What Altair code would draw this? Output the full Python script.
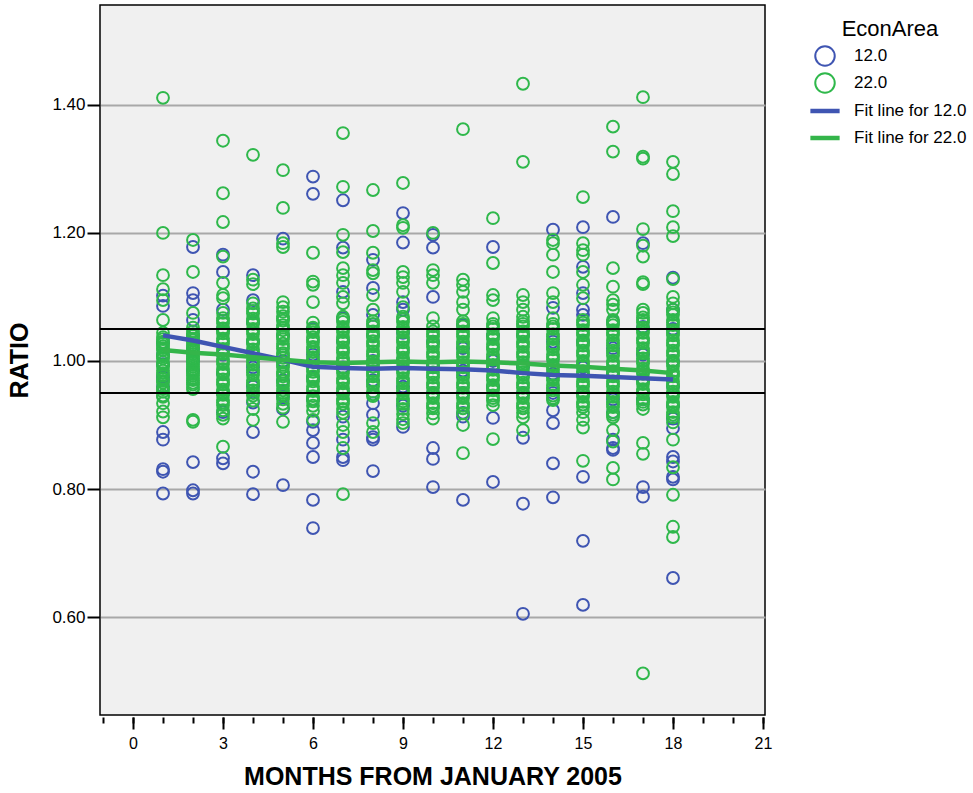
import altair as alt
import pandas as pd

FONT = "Liberation Sans"

months = list(range(1, 19))
series_names = ["12.0", "22.0", "Fit line for 12.0", "Fit line for 22.0"]
series_colors = ["#3f55b2", "#2fb84b", "#3f55b2", "#34b54a"]
series_widths = [2, 2, 4.5, 4.5]

# RATIO observations per month, EconArea 12.0
ratio_12 = [
    [1.102, 1.086, 1.028, 1.010, 0.995, 0.975, 0.960, 0.889, 0.877, 0.831, 0.827, 0.793],
    [1.178, 1.106, 1.095, 1.064, 1.040, 1.020, 1.000, 0.985, 0.842, 0.798, 0.793],
    [1.166, 1.139, 1.080, 1.050, 1.010, 0.980, 0.950, 0.920, 0.848, 0.840],
    [1.134, 1.095, 1.060, 1.030, 0.990, 0.960, 0.935, 0.889, 0.827, 0.792],
    [1.191, 1.040, 1.000, 0.970, 0.945, 0.925, 0.806],
    [1.288, 1.261, 1.050, 1.010, 0.975, 0.940, 0.905, 0.892, 0.872, 0.850, 0.783, 0.739],
    [1.251, 1.177, 1.108, 1.067, 1.030, 0.990, 0.950, 0.913, 0.877, 0.850, 0.845],
    [1.158, 1.114, 1.072, 1.040, 1.000, 0.970, 0.934, 0.916, 0.881, 0.877, 0.828],
    [1.231, 1.185, 1.092, 1.080, 1.044, 1.000, 0.960, 0.930, 0.897],
    [1.197, 1.177, 1.100, 1.030, 0.990, 0.950, 0.864, 0.847, 0.803],
    [1.056, 1.020, 0.985, 0.950, 0.919, 0.913, 0.783],
    [1.178, 1.040, 1.000, 0.960, 0.911, 0.811],
    [1.040, 0.990, 0.950, 0.880, 0.777, 0.605],
    [1.205, 1.083, 1.030, 0.980, 0.950, 0.923, 0.903, 0.840, 0.787],
    [1.209, 1.147, 1.106, 1.080, 1.072, 1.030, 0.990, 0.950, 0.819, 0.719, 0.619],
    [1.225, 1.061, 1.020, 0.980, 0.940, 0.920, 0.877, 0.864, 0.861],
    [1.184, 1.053, 1.010, 0.970, 0.940, 0.803, 0.788],
    [1.130, 1.080, 1.050, 1.000, 0.960, 0.930, 0.910, 0.895, 0.850, 0.843, 0.819, 0.815, 0.661],
]

# RATIO observations per month, EconArea 22.0
ratio_22 = [
    [1.411, 1.200, 1.134, 1.112, 1.095, 1.064, 1.044, 1.037, 1.030, 1.023, 1.017, 1.010, 1.004,
     0.998, 0.991, 0.985, 0.978, 0.972, 0.966, 0.959, 0.952, 0.946, 0.944, 0.934, 0.921, 0.912],
    [1.189, 1.139, 1.075, 1.052, 1.046, 1.039, 1.032, 1.025, 1.018, 1.011, 1.004, 0.998, 0.991,
     0.984, 0.977, 0.970, 0.963, 0.956, 0.908, 0.905],
    [1.344, 1.262, 1.217, 1.163, 1.122, 1.103, 1.098, 1.075, 1.067, 1.059, 1.051, 1.043, 1.035,
     1.027, 1.019, 1.011, 1.003, 0.995, 0.987, 0.979, 0.971, 0.963, 0.955, 0.947, 0.939, 0.931,
     0.923, 0.916, 0.910, 0.866],
    [1.322, 1.127, 1.120, 1.090, 1.082, 1.074, 1.066, 1.058, 1.050, 1.042, 1.034, 1.026, 1.018,
     1.010, 1.002, 0.994, 0.986, 0.978, 0.970, 0.962, 0.954, 0.946, 0.938, 0.925, 0.908],
    [1.298, 1.239, 1.184, 1.178, 1.092, 1.084, 1.077, 1.070, 1.063, 1.056, 1.048, 1.041, 1.034,
     1.027, 1.019, 1.012, 1.005, 0.998, 0.990, 0.983, 0.976, 0.969, 0.961, 0.954, 0.947, 0.940,
     0.933, 0.927, 0.905],
    [1.169, 1.124, 1.119, 1.092, 1.060, 1.052, 1.045, 1.037, 1.029, 1.022, 1.014, 1.006, 0.999,
     0.991, 0.983, 0.976, 0.968, 0.960, 0.953, 0.945, 0.937, 0.930, 0.922, 0.908],
    [1.356, 1.272, 1.197, 1.170, 1.145, 1.134, 1.122, 1.100, 1.090, 1.069, 1.061, 1.053, 1.045,
     1.037, 1.029, 1.021, 1.013, 1.005, 0.997, 0.989, 0.981, 0.973, 0.965, 0.957, 0.949, 0.941,
     0.933, 0.925, 0.919, 0.900, 0.889, 0.864, 0.792],
    [1.267, 1.203, 1.169, 1.142, 1.137, 1.103, 1.080, 1.062, 1.054, 1.046, 1.038, 1.031, 1.023,
     1.015, 1.007, 0.999, 0.991, 0.984, 0.976, 0.968, 0.960, 0.952, 0.945, 0.903, 0.889],
    [1.278, 1.212, 1.208, 1.139, 1.131, 1.122, 1.108, 1.084, 1.069, 1.061, 1.053, 1.045, 1.037,
     1.029, 1.021, 1.013, 1.005, 0.997, 0.989, 0.981, 0.973, 0.965, 0.957, 0.949, 0.941, 0.933,
     0.925, 0.917, 0.909, 0.903],
    [1.200, 1.142, 1.134, 1.122, 1.067, 1.054, 1.046, 1.038, 1.030, 1.022, 1.014, 1.006, 0.998,
     0.990, 0.982, 0.974, 0.966, 0.958, 0.950, 0.942, 0.934, 0.926, 0.918, 0.910],
    [1.362, 1.127, 1.119, 1.108, 1.092, 1.080, 1.062, 1.054, 1.046, 1.038, 1.030, 1.022, 1.014,
     1.006, 0.998, 0.990, 0.982, 0.974, 0.966, 0.958, 0.950, 0.942, 0.934, 0.926, 0.918, 0.900,
     0.856],
    [1.223, 1.153, 1.103, 1.095, 1.067, 1.058, 1.050, 1.042, 1.034, 1.026, 1.018, 1.010, 1.002,
     0.994, 0.986, 0.978, 0.970, 0.962, 0.954, 0.946, 0.938, 0.931, 0.878],
    [1.433, 1.311, 1.103, 1.092, 1.080, 1.069, 1.062, 1.054, 1.046, 1.038, 1.030, 1.022, 1.014,
     1.006, 0.998, 0.990, 0.982, 0.974, 0.966, 0.958, 0.950, 0.942, 0.934, 0.926, 0.919, 0.912,
     0.892],
    [1.189, 1.184, 1.166, 1.139, 1.106, 1.092, 1.067, 1.058, 1.050, 1.042, 1.034, 1.026, 1.018,
     1.010, 1.002, 0.994, 0.986, 0.978, 0.970, 0.962, 0.954, 0.946, 0.939],
    [1.256, 1.184, 1.173, 1.166, 1.139, 1.119, 1.098, 1.064, 1.056, 1.048, 1.040, 1.032, 1.024,
     1.016, 1.008, 1.000, 0.992, 0.984, 0.976, 0.968, 0.960, 0.952, 0.944, 0.936, 0.928, 0.920,
     0.908, 0.896, 0.844],
    [1.366, 1.327, 1.145, 1.116, 1.095, 1.088, 1.080, 1.064, 1.056, 1.048, 1.040, 1.032, 1.024,
     1.016, 1.008, 1.000, 0.992, 0.984, 0.976, 0.968, 0.960, 0.952, 0.944, 0.936, 0.928, 0.920,
     0.912, 0.892, 0.874, 0.833, 0.815],
    [1.412, 1.319, 1.316, 1.206, 1.180, 1.163, 1.123, 1.120, 1.080, 1.075, 1.068, 1.060, 1.052,
     1.044, 1.036, 1.028, 1.020, 1.012, 1.004, 0.996, 0.988, 0.980, 0.972, 0.964, 0.956, 0.948,
     0.940, 0.932, 0.925, 0.872, 0.855, 0.512],
    [1.311, 1.292, 1.234, 1.209, 1.195, 1.128, 1.100, 1.090, 1.080, 1.072, 1.064, 1.056, 1.048,
     1.040, 1.032, 1.024, 1.016, 1.008, 1.000, 0.992, 0.984, 0.976, 0.968, 0.960, 0.952, 0.944,
     0.936, 0.928, 0.920, 0.912, 0.904, 0.877, 0.834, 0.791, 0.741, 0.725],
]

# Further EconArea 22.0 observations packed inside each month's central band
ratio_22_band = [
    [1.034, 1.027, 1.020, 1.007, 0.994, 0.981, 0.969, 0.956],
    [1.042, 1.035, 1.028, 1.021, 1.014, 1.007, 1.001, 0.994, 0.987, 0.980, 0.973, 0.966, 0.959],
    [1.063, 1.047, 1.031, 1.015, 0.999, 0.983, 0.967, 0.951, 0.935],
    [1.078, 1.062, 1.046, 1.030, 1.014, 0.998, 0.982, 0.966, 0.950],
    [1.066, 1.052, 1.038, 1.023, 1.009, 0.994, 0.980, 0.965, 0.950],
    [1.048, 1.033, 1.018, 1.002, 0.987, 0.972, 0.956, 0.941],
    [1.065, 1.049, 1.033, 1.017, 1.001, 0.985, 0.969, 0.953, 0.937],
    [1.058, 1.042, 1.027, 1.011, 0.995, 0.980, 0.964, 0.948],
    [1.065, 1.049, 1.033, 1.017, 1.001, 0.985, 0.969, 0.953, 0.937],
    [1.042, 1.026, 1.010, 0.994, 0.978, 0.962, 0.946, 0.930],
    [1.058, 1.042, 1.026, 1.010, 0.994, 0.978, 0.962, 0.946, 0.930],
    [1.054, 1.038, 1.022, 1.006, 0.990, 0.974, 0.958, 0.942],
    [1.058, 1.042, 1.026, 1.010, 0.994, 0.978, 0.962, 0.946, 0.930],
    [1.054, 1.038, 1.022, 1.006, 0.990, 0.974, 0.958, 0.942],
    [1.060, 1.044, 1.028, 1.012, 0.996, 0.980, 0.964, 0.948, 0.932],
    [1.060, 1.044, 1.028, 1.012, 0.996, 0.980, 0.964, 0.948, 0.932, 0.916],
    [1.064, 1.048, 1.032, 1.016, 1.000, 0.984, 0.968, 0.952, 0.936],
    [1.076, 1.060, 1.044, 1.028, 1.012, 0.996, 0.980, 0.964, 0.948, 0.932, 0.916],
]

# Fit lines (smoothed RATIO by month)
fit_12 = [1.040, 1.032, 1.022, 1.012, 1.002, 0.991, 0.989, 0.988, 0.989,
          0.988, 0.987, 0.985, 0.981, 0.978, 0.977, 0.975, 0.973, 0.971]
fit_22 = [1.017, 1.013, 1.010, 1.006, 1.002, 0.998, 0.997, 0.998, 0.999,
          0.998, 0.999, 0.998, 0.996, 0.993, 0.991, 0.988, 0.985, 0.981]

ref_levels = [0.95, 1.05]
x_major = [0, 3, 6, 9, 12, 15, 18, 21]
x_minor = list(range(-1, 22))
y_ticks = [0.60, 0.80, 1.00, 1.20, 1.40]

# Long-format tables (EconArea 12.0 rows first so 22.0 draws on top)
point_rows = []
for name, groups in (("12.0", ratio_12), ("22.0", ratio_22), ("22.0", ratio_22_band)):
    for m, vals in zip(months, groups):
        for v in vals:
            point_rows.append({"month": m, "ratio": v, "series": name})
points_df = pd.DataFrame(point_rows)

fit_rows = []
for name, vals in (("Fit line for 12.0", fit_12), ("Fit line for 22.0", fit_22)):
    for m, v in zip(months, vals):
        fit_rows.append({"month": m, "ratio": v, "series": name})
fit_df = pd.DataFrame(fit_rows)

ref_df = pd.DataFrame({"ratio": ref_levels})

x_scale = alt.Scale(domain=[-1.1, 21.067], nice=False, zero=False)
y_scale = alt.Scale(domain=[0.447, 1.556], nice=False, zero=False)

y_axis = alt.Axis(
    values=y_ticks,
    format=".2f",
    title="RATIO",
    titleFontSize=25,
    titleFontWeight="bold",
    titlePadding=19,
    labelFontSize=17,
    labelPadding=2,
    tickSize=13,
    grid=True,
    gridColor="#a8a8a8",
    gridWidth=2,
    domain=False,
)

legend = alt.Legend(
    title="EconArea",
    orient="none",
    legendX=713,
    legendY=14,
    titleAnchor="middle",
    titleFontSize=22,
    titleFontWeight="normal",
    titleFont=FONT,
    titleColor="#000000",
    titlePadding=4,
    labelFontSize=17,
    labelFont=FONT,
    labelColor="#000000",
    labelOffset=17,
    gridAlign="all",
    rowPadding=-1,
    symbolSize=380,
    symbolFillColor="transparent",
)

color_scale = alt.Scale(domain=series_names, range=series_colors)
width_scale = alt.Scale(type="ordinal", domain=series_names, range=series_widths)
line_path = "M-1.5,0L1.5,0"

points = alt.Chart(points_df).mark_point(filled=False, size=140, opacity=1).encode(
    x=alt.X(
        "month:Q",
        scale=x_scale,
        axis=alt.Axis(
            values=x_major,
            orient="bottom",
            title="MONTHS FROM JANUARY 2005",
            titleFontSize=25,
            titleFontWeight="bold",
            titlePadding=13,
            labelFontSize=16,
            labelPadding=6,
            tickSize=12,
            offset=2,
            grid=False,
            domain=False,
        ),
    ),
    y=alt.Y("ratio:Q", scale=y_scale, axis=y_axis),
    color=alt.Color("series:N", scale=color_scale, legend=legend),
    shape=alt.Shape(
        "series:N",
        scale=alt.Scale(domain=series_names, range=["circle", "circle", line_path, line_path]),
    ),
    strokeWidth=alt.StrokeWidth("series:N", scale=width_scale),
)

fits = alt.Chart(fit_df).mark_line(strokeWidth=4.5).encode(
    x=alt.X(
        "month:Q",
        scale=x_scale,
        axis=alt.Axis(
            values=x_minor,
            orient="bottom",
            title=None,
            labels=False,
            tickSize=6,
            offset=2,
            grid=False,
            domain=False,
        ),
    ),
    y=alt.Y("ratio:Q", scale=y_scale, axis=y_axis),
    color=alt.Color("series:N", scale=color_scale, legend=legend),
)

refs = alt.Chart(ref_df).mark_rule(color="#000000", strokeWidth=2).encode(
    y=alt.Y("ratio:Q", scale=y_scale, axis=y_axis),
)

chart = (
    alt.layer(points, fits, refs)
    .resolve_axis(x="independent")
    .properties(
        width=665,
        height=710,
        autosize=alt.AutoSizeParams(type="none"),
        padding={"left": 100, "top": 5, "right": 208, "bottom": 78},
        background="#ffffff",
    )
    .configure_view(fill="#f0f0f0", stroke="#000000", strokeWidth=1.5)
    .configure_axis(
        labelFont=FONT,
        titleFont=FONT,
        labelColor="#000000",
        titleColor="#000000",
        tickColor="#000000",
        tickWidth=2,
    )
)

chart.save("out.html", embed_options={"renderer": "svg", "actions": False})
